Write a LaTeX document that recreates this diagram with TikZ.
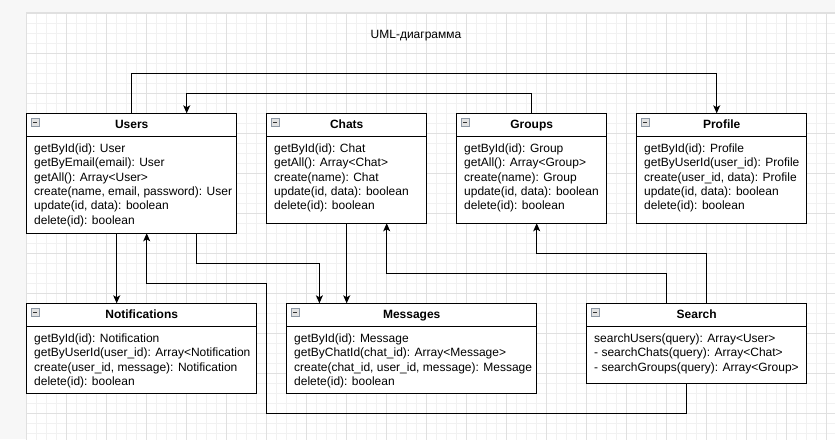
\documentclass[tikz,border=0pt]{standalone}
\usepackage{fontspec}
\setmainfont{Liberation Sans}
\usetikzlibrary{arrows.meta,positioning}
\definecolor{outergray}{HTML}{F7F7F7}
\definecolor{gridfine}{HTML}{F1F1F1}
\definecolor{gridbold}{HTML}{E0E0E0}
\definecolor{iconfill}{HTML}{E2E2E2}
\definecolor{iconline}{HTML}{8C97A4}
\tikzset{
  classbox/.style={
    rectangle,
    draw=black,
    line width=1pt,
    fill=white,
    outer sep=0pt,
    inner sep=0pt,
    path picture={
      \draw[line width=1pt] ([yshift=-23.3pt]path picture bounding box.north west)
        -- ([yshift=-23.3pt]path picture bounding box.north east);
      \draw[draw=iconline,fill=iconfill,line width=0.7pt]
        ([shift={(4.5pt,-5pt)}]path picture bounding box.north west) rectangle ++(8pt,-8pt);
      \draw[line width=1pt,draw=black!80]
        ([shift={(6.5pt,-9pt)}]path picture bounding box.north west) -- ++(4pt,0pt);
    }
  },
  classtitle/.style={
    font=\fontsize{12}{14.4}\selectfont\bfseries,
    minimum height=23.3pt,
    text height=8.6pt,
    text depth=2.5pt,
    inner sep=0pt,
    outer sep=0pt
  },
  classtext/.style={
    font=\fontsize{12}{14.4}\selectfont,
    align=left,
    inner xsep=7.5pt,
    inner ysep=7pt,
    outer sep=0pt
  },
  conn/.style={-{Stealth[length=8pt,width=7pt,inset=2pt]},line width=1pt,draw=black}
}

\begin{document}
\begin{tikzpicture}[x=1pt,y=-1pt,font=\fontsize{12}{14.4}\selectfont]
    \useasboundingbox (0,0) rectangle (835,439);
    % canvas and grid
    \fill[outergray] (0,0) rectangle (835,439);
    \filldraw[fill=white,draw=gridbold,line width=0.8pt] (26,12.7) rectangle (836,440);
    \begin{scope}[shift={(26.7,13.3)}]
      \draw[gridfine,line width=0.8pt] (0,430) grid[step=10pt] (810,0);
      \draw[gridbold,line width=0.8pt] (0,430) grid[step=40pt] (810,0);
    \end{scope}

    \node (title) at (416,36) {UML-диаграмма};

    % top row
    \node[classbox,anchor=north west,minimum width=210pt,minimum height=120pt] (users) at (26.7,113.3) {};
    \node[classbox,right=30pt of users.north east,anchor=north west,minimum width=160pt,minimum height=110pt] (chats) {};
    \node[classbox,right=30pt of chats.north east,anchor=north west,minimum width=150pt,minimum height=110pt] (groups) {};
    \node[classbox,right=30pt of groups.north east,anchor=north west,minimum width=170pt,minimum height=110pt] (profile) {};

    % bottom row
    \node[classbox,below=70pt of users.south west,anchor=north west,minimum width=230pt,minimum height=90pt] (notif) {};
    \node[classbox,right=30pt of notif.north east,anchor=north west,minimum width=250pt,minimum height=90pt] (messages) {};
    \node[classbox,right=50pt of messages.north east,anchor=north west,minimum width=220pt,minimum height=80pt] (search) {};

    \node[classtitle,below=0pt of users.north] (usersh) {Users};
    \node[classtitle,below=0pt of chats.north] (chatsh) {Chats};
    \node[classtitle,below=0pt of groups.north] (groupsh) {Groups};
    \node[classtitle,below=0pt of profile.north] (profileh) {Profile};
    \node[classtitle,below=0pt of notif.north] (notifh) {Notifications};
    \node[classtitle,below=0pt of messages.north] (messagesh) {Messages};
    \node[classtitle,below=0pt of search.north] (searchh) {Search};

    \node[classtext,below right=23.3pt and 0pt of users.north west] (userst)
      {getById(id): User\\getByEmail(email): User\\getAll(): Array<User>\\create(name, email, password): User\\update(id, data): boolean\\delete(id): boolean};
    \node[classtext,below right=23.3pt and 0pt of chats.north west] (chatst)
      {getById(id): Chat\\getAll(): Array<Chat>\\create(name): Chat\\update(id, data): boolean\\delete(id): boolean};
    \node[classtext,below right=23.3pt and 0pt of groups.north west] (groupst)
      {getById(id): Group\\getAll(): Array<Group>\\create(name): Group\\update(id, data): boolean\\delete(id): boolean};
    \node[classtext,below right=23.3pt and 0pt of profile.north west] (profilet)
      {getById(id): Profile\\getByUserId(user\_id): Profile\\create(user\_id, data): Profile\\update(id, data): boolean\\delete(id): boolean};
    \node[classtext,below right=23.3pt and 0pt of notif.north west] (notift)
      {getById(id): Notification\\getByUserId(user\_id): Array<Notification\\create(user\_id, message): Notification\\delete(id): boolean};
    \node[classtext,below right=23.3pt and 0pt of messages.north west] (messagest)
      {getById(id): Message\\getByChatId(chat\_id): Array<Message>\\create(chat\_id, user\_id, message): Message\\delete(id): boolean};
    \node[classtext,below right=23.3pt and 0pt of search.north west] (searcht)
      {searchUsers(query): Array<User>\\- searchChats(query): Array<Chat>\\- searchGroups(query): Array<Group>};

    % connectors
    \draw[conn] (users.north) -- ++(0,-40) -| ([xshift=-5pt]profile.north);
    \draw[conn] (groups.north) -- ++(0,-20) -| ([xshift=-50pt]users.north east);
    \draw[conn] ([xshift=-15pt]users.south) -- ([xshift=-15pt]users.south |- notif.north);
    \draw[conn] ([xshift=65pt]users.south) -- ++(0,30) -| ([xshift=32.7pt]messages.north west);
    \draw[conn] (chats.south) -- (chats.south |- messages.north);
    \draw[conn] ([xshift=-10pt]search.south) -- ++(0,30) -| ++(-420,-130) -| ([xshift=15pt]users.south);
    \draw[conn] ([xshift=-30pt]search.north) -- ++(0,-30) -| ([xshift=40pt]chats.south);
    \draw[conn] ([xshift=10pt]search.north) -- ++(0,-50) -| ([xshift=5pt]groups.south);
\end{tikzpicture}
\end{document}
